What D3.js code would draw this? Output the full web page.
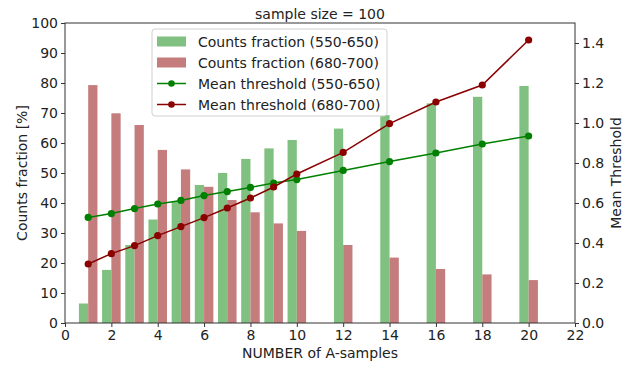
<!DOCTYPE html>
<html><head><meta charset="utf-8">
<script src="https://cdn.jsdelivr.net/npm/d3@7"></script>
<style>body{margin:0;background:#fff}svg{display:block;font-family:"DejaVu Sans",sans-serif}</style>
</head><body><svg id="c" width="633" height="365"></svg>
<script>
const xs = [1,2,3,4,5,6,7,8,9,10,12,14,16,18,20];
const countsGreen = [6.5,17.7,26,34.5,40.6,46,50,54.7,58.2,61,64.8,69.3,73.2,75.4,79];
const countsRed = [79.3,69.9,66,57.7,51.2,45.4,41,36.9,33.2,30.7,26,21.8,18,16.2,14.3];
const meanGreen = [0.528,0.547,0.572,0.595,0.613,0.637,0.657,0.678,0.700,0.717,0.763,0.807,0.850,0.895,0.935];
const meanRed = [0.295,0.347,0.387,0.437,0.482,0.527,0.575,0.625,0.680,0.745,0.853,0.997,1.105,1.190,1.415];
const xTicks = [0,2,4,6,8,10,12,14,16,18,20,22];
const yLeftTicks = [0,10,20,30,40,50,60,70,80,90,100];
const yRightTicks = [0,0.2,0.4,0.6,0.8,1.0,1.2,1.4];
const legendLabels = ["Counts fraction (550-650)","Counts fraction (680-700)","Mean threshold (550-650)","Mean threshold (680-700)"];

const C = {gBar:"#80c080", rBar:"#c47c7c", gLine:"#008000", rLine:"#8b0000"};
const L=65, R=575, T=23, B=323;
const svg = d3.select("#c");
const x = d3.scaleLinear().domain([0,22]).range([L,R]);
const yL = d3.scaleLinear().domain([0,100]).range([B,T]);
const yR = d3.scaleLinear().domain([0,1.5]).range([B,T]);
const bw = 0.4;

svg.append("g").selectAll("rect").data(xs).join("rect")
  .attr("x",(d)=>x(d-bw)).attr("width",(d)=>x(d)-x(d-bw))
  .attr("y",(d,i)=>yL(countsGreen[i])).attr("height",(d,i)=>B-yL(countsGreen[i]))
  .attr("fill",C.gBar);
svg.append("g").selectAll("rect").data(xs).join("rect")
  .attr("x",(d)=>x(d)).attr("width",(d)=>x(d+bw)-x(d))
  .attr("y",(d,i)=>yL(countsRed[i])).attr("height",(d,i)=>B-yL(countsRed[i]))
  .attr("fill",C.rBar);

function series(vals,color){
  const g=svg.append("g");
  g.append("path").datum(xs).attr("fill","none").attr("stroke",color).attr("stroke-width",1.5)
   .attr("d",d3.line().x(d=>x(d)).y((d,i)=>yR(vals[i])));
  g.selectAll("circle").data(xs).join("circle").attr("cx",d=>x(d)).attr("cy",(d,i)=>yR(vals[i])).attr("r",3.6).attr("fill",color);
}
series(meanGreen,C.gLine);
series(meanRed,C.rLine);

// axes
const fs = 14;
const ax = svg.append("g").attr("transform",`translate(0,${B})`).call(d3.axisBottom(x).tickValues(xTicks).tickFormat(d3.format("d")).tickSize(4).tickPadding(3));
const ay = svg.append("g").attr("transform",`translate(${L},0)`).call(d3.axisLeft(yL).tickValues(yLeftTicks).tickFormat(d3.format("d")).tickSize(4).tickPadding(3));
const ar = svg.append("g").attr("transform",`translate(${R},0)`).call(d3.axisRight(yR).tickValues(yRightTicks).tickFormat(d3.format(".1f")).tickSize(4).tickPadding(3));
[ax,ay,ar].forEach(a=>{a.select(".domain").remove();a.selectAll("text").attr("font-size",fs).attr("font-family","DejaVu Sans").attr("fill","#222");a.selectAll("line").attr("stroke","#333");});
svg.append("rect").attr("x",L).attr("y",T).attr("width",R-L).attr("height",B-T).attr("fill","none").attr("stroke","#333").attr("stroke-width",1);

svg.append("text").attr("x",(L+R)/2).attr("y",19).attr("text-anchor","middle").attr("font-size",fs).attr("fill","#222").text("sample size = 100");
svg.append("text").attr("x",(L+R)/2).attr("y",358).attr("text-anchor","middle").attr("font-size",fs).attr("fill","#222").text("NUMBER of A-samples");
svg.append("text").attr("transform",`translate(27,${(T+B)/2}) rotate(-90)`).attr("text-anchor","middle").attr("font-size",fs).attr("fill","#222").text("Counts fraction [%]");
svg.append("text").attr("transform",`translate(621,${(T+B)/2}) rotate(-90)`).attr("text-anchor","middle").attr("font-size",fs).attr("fill","#222").text("Mean Threshold");

// legend
const lg = svg.append("g");
lg.append("rect").attr("x",152).attr("y",29).attr("width",235).attr("height",87).attr("rx",3).attr("fill","#fff").attr("fill-opacity",0.85).attr("stroke","#d0d0d0");
const kinds=[{t:"bar",c:C.gBar},{t:"bar",c:C.rBar},{t:"line",c:C.gLine},{t:"line",c:C.rLine}];
legendLabels.forEach((lab,i)=>{
  const cy=41.5+i*21;
  const k=kinds[i];
  if(k.t==="bar"){lg.append("rect").attr("x",157).attr("y",cy-5).attr("width",29).attr("height",10).attr("fill",k.c);}
  else{lg.append("line").attr("x1",157).attr("x2",186).attr("y1",cy).attr("y2",cy).attr("stroke",k.c).attr("stroke-width",1.5);
       lg.append("circle").attr("cx",171.5).attr("cy",cy).attr("r",3.3).attr("fill",k.c);}
  lg.append("text").attr("x",198).attr("y",cy+5).attr("font-size",fs).attr("fill","#222").text(lab);
});
</script></body></html>
